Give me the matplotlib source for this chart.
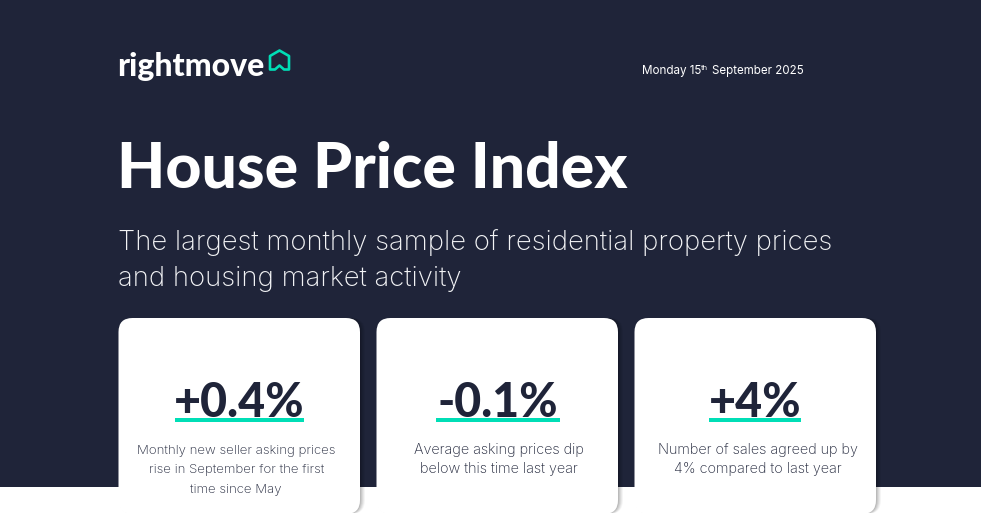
import matplotlib
matplotlib.use('Agg')
import matplotlib.pyplot as plt
from matplotlib.patches import FancyBboxPatch, Rectangle, Polygon

NAVY = '#1f2439'
TEAL = '#00deb6'

headlines = ['+0.4%', '-0.1%', '+4%']
captions = [
    ['Monthly new seller asking prices', 'rise in September for the first', 'time since May'],
    ['Average asking prices dip', 'below this time last year'],
    ['Number of sales agreed up by', '4% compared to last year'],
]
card_left = [118.5, 376.5, 634.5]
underline = [(175, 304), (436, 560), (709, 801)]
caption_size = [9.5, 10.4, 10.4]
caption_shift = [-3, 2, 3]
title = 'House Price Index'
subtitle = ['The largest monthly sample of residential property prices',
            'and housing market activity']

plt.rcParams['font.family'] = ['Inter', 'DejaVu Sans']

fig = plt.figure(figsize=(9.81, 5.13), dpi=100, facecolor='white')
ax = fig.add_axes([0, 0, 1, 1])
ax.set_xlim(0, 981)
ax.set_ylim(513, 0)
ax.axis('off')

# fondo oscuro
ax.add_patch(Rectangle((0, 0), 981, 487, fc=NAVY, ec='none', zorder=0))

# logo
ax.text(117.5, 76, 'rightmove', color='white', fontsize=23, fontweight='black',
        va='baseline', ha='left', family='Lato')
house = [(270, 56), (279.5, 50.5), (289, 56), (289, 69.5), (284, 69.5),
         (279.5, 65.5), (275, 69.5), (270, 69.5)]
ax.add_patch(Polygon(house, closed=True, fc='none', ec=TEAL, lw=1.9, joinstyle='round'))

# fecha
ax.text(642, 74, 'Monday 15', color='white', fontsize=8.4, va='baseline', ha='left')
ax.text(701, 70, 'th', color='white', fontsize=5.5, va='baseline', ha='left')
ax.text(712, 74, 'September 2025', color='white', fontsize=8.3, va='baseline', ha='left')

ax.text(117, 188, title, color='white', fontsize=45, fontweight='black',
        va='baseline', ha='left', family='Lato')
ax.text(118, 249.5, subtitle[0], color='#f2f3f5', fontsize=19.8, fontweight='light', va='baseline')
ax.text(118, 285.5, subtitle[1], color='#f2f3f5', fontsize=19.8, fontweight='light', va='baseline')

# tarjetas
for i, left in enumerate(card_left):
    w, top, h = 241.5, 318, 196
    r = 14
    for off, alpha in [(5, 0.04), (4, 0.05), (3, 0.06), (2, 0.07), (1, 0.08)]:
        ax.add_patch(FancyBboxPatch((left + r + off, top + r), w - 2*r, h - 2*r,
                                    boxstyle=f'round,pad={r},rounding_size={r}',
                                    fc='black', ec='none', alpha=alpha, zorder=1))
    ax.add_patch(FancyBboxPatch((left + r, top + r), w - 2*r, h - 2*r,
                                boxstyle=f'round,pad={r},rounding_size={r}',
                                fc='white', ec='none', zorder=2))
    cx = left + w / 2 + caption_shift[i]
    x0, x1 = underline[i]
    ax.add_patch(Rectangle((x0, 417.5), x1 - x0, 4, fc=TEAL, ec='none', zorder=3))
    ax.text((x0 + x1) / 2, 417, headlines[i], color=NAVY, fontsize=33.5, fontweight='black',
            ha='center', va='baseline', zorder=4, family='Lato')
    for j, line in enumerate(captions[i]):
        ax.text(cx, 454 + j * 19.5, line, color=NAVY, fontsize=caption_size[i], fontweight='light',
                ha='center', va='baseline', zorder=4)

fig.savefig('out.png', dpi=100, facecolor='white')
